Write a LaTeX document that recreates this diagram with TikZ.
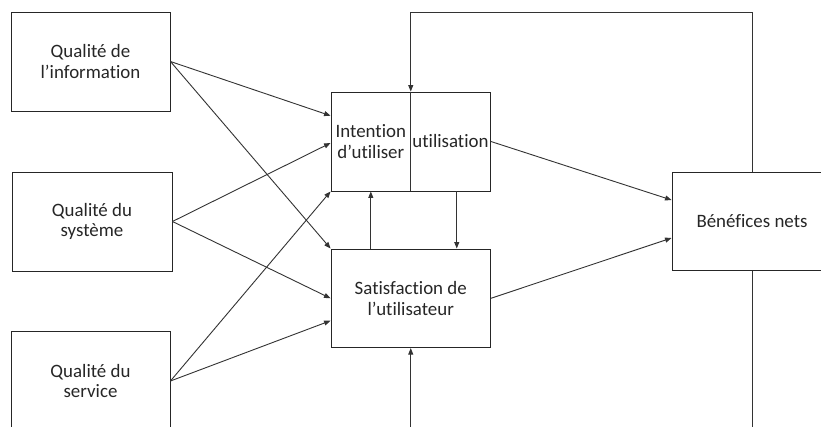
\documentclass[tikz,border=0pt]{standalone}
\usepackage{fontspec}
\setmainfont{Carlito}[Ligatures={NoCommon,NoRare,NoContextual}]
\usetikzlibrary{arrows.meta,calc}
\begin{document}
\begin{tikzpicture}[x=1pt,y=-1pt,
  box/.style={draw=black!85,line width=0.9pt,rectangle,inner sep=0pt,align=center,text=black!85},
  lbl/.style={inner sep=0pt,align=center,text=black!85},
  conn/.style={draw=black!80,line width=0.9pt},
  arr/.style={conn,-{Triangle[length=6.5pt,width=5pt]}},
  every node/.append style={font=\fontsize{18.9}{20.5}\selectfont}]
\clip (0,0) rectangle (821,426);
\fill[white] (0,0) rectangle (821,426);
\node[box,minimum width=159pt,minimum height=99pt] (info) at (90.5,61.5) {Qualité de\\l’information};
\node[box,minimum width=160pt,minimum height=99pt] (sys) at (92,221.5) {Qualité du\\système};
\node[box,minimum width=159pt,minimum height=100pt] (serv) at (90.5,381) {Qualité du\\service};
\node[box,minimum width=159.5pt,minimum height=99pt] (int) at (410.75,141.5) {};
\draw[conn] (int.north) -- (int.south);
\node[lbl] (intl) at (370.8,141.5) {Intention\\d’utiliser};
\node[lbl] (util) at (450.5,141.5) {utilisation};
\node[box,minimum width=159.5pt,minimum height=98.7pt] (sat) at (410.75,298.3) {Satisfaction de\\l’utilisateur};
\node[box,minimum width=160pt,minimum height=98.5pt] (ben) at (752,221.25) {Bénéfices nets};
% feedback loops
\coordinate (fbtop) at (410.75,12.7);
\coordinate (fbbot) at (410.75,430);
\coordinate (benbot) at (752,430);
\draw[arr] (ben.north) |- (fbtop) -- (int.north);
\draw[arr] (fbbot) -- (sat.south);
\draw[conn] (ben.south) -- (benbot);
% internal
\draw[arr] (sat.north -| intl) -- (int.south -| intl);
\draw[arr] ([xshift=46pt]int.south) -- ([xshift=46pt]sat.north);
% from left boxes
\draw[arr] (info.east) -- ([yshift=25.8pt]int.west);
\draw[arr] (info.east) -- (sat.north west);
\draw[arr] (sys.east) -- ([yshift=-1.5pt]int.west);
\draw[arr] (sys.east) -- (sat.west);
\draw[arr] (serv.east) -- (int.south west);
\draw[arr] (serv.east) -- ([yshift=-22.4pt]sat.west);
% to benefits
\draw[arr] (int.east) -- ([yshift=21.25pt]ben.west);
\draw[arr] (sat.east) -- ([yshift=-16.75pt]ben.west);
\end{tikzpicture}
\end{document}
